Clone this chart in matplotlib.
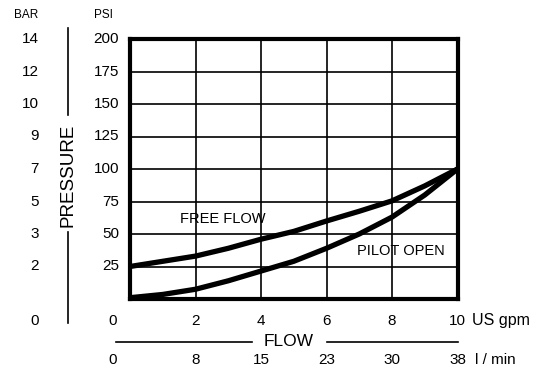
import matplotlib.pyplot as plt

plt.rcParams['font.family'] = ['Liberation Sans', 'DejaVu Sans']

# flow in US gpm, pressure in psi
gpm = [0, 1, 2, 3, 4, 5, 6, 7, 8, 9, 10]
free_flow = [25, 29, 33, 39, 46, 52, 60, 67.5, 75.5, 87, 100]
pilot_open = [1, 3.5, 7.5, 14, 21.5, 29, 39, 50, 63, 80, 100]

psi_ticks = [0, 25, 50, 75, 100, 125, 150, 175, 200]
bar_labels = ["0", "2", "3", "5", "7", "9", "10", "12", "14"]
gpm_ticks = [0, 2, 4, 6, 8, 10]
lpm_labels = ["0", "8", "15", "23", "30", "38"]

W, H = 543, 375
fig = plt.figure(figsize=(W / 100, H / 100), dpi=100)
ax = fig.add_axes([130 / W, (H - 299) / H, 327.5 / W, 260 / H])

ax.set_xlim(0, 10)
ax.set_ylim(0, 200)
ax.set_xticks(gpm_ticks)
ax.set_yticks(psi_ticks)
ax.tick_params(length=0, labelbottom=False, labelleft=False)
ax.grid(True, color="black", lw=1.2)
for s in ax.spines.values():
    s.set_linewidth(3)

ax.plot(gpm, free_flow, color="black", lw=3.8, solid_capstyle="butt")
ax.plot(gpm, pilot_open, color="black", lw=3.8, solid_capstyle="butt")

fs = 11
ax.text(1.53, 61.5, "FREE FLOW", fontsize=10.5, va="center", ha="left")
ax.text(6.94, 37, "PILOT OPEN", fontsize=10.5, va="center", ha="left")

# px -> data helpers
def dx(px):
    return (px - 130) / 32.75

def dy(py):
    return (299 - py) / 1.3

low = dy(321)
# left labels (psi 0 shares its spot with the gpm 0)
for v, b in zip(psi_ticks, bar_labels):
    yy = v if v > 0 else low
    if v > 0:
        ax.text(dx(119), yy, str(v), fontsize=fs, ha="right", va="center", clip_on=False)
    ax.text(dx(38.5), yy, b, fontsize=fs, ha="right", va="center", clip_on=False)

# bottom labels
for v, l in zip(gpm_ticks, lpm_labels):
    xx = v if v > 0 else dx(113)
    ax.text(xx, low, str(v), fontsize=fs, ha="center", va="center", clip_on=False)
    ax.text(xx, dy(360), l, fontsize=fs, ha="center", va="center", clip_on=False)
ax.text(dx(472), low, "US gpm", fontsize=11.5, ha="left", va="center", clip_on=False)
ax.text(dx(475), dy(360), "l / min", fontsize=11, ha="left", va="center", clip_on=False)

# FLOW caption with rules
ax.text(dx(289), dy(341), "FLOW", fontsize=12.5, ha="center", va="center", clip_on=False)
ax.plot([dx(116), dx(252)], [dy(341.5)] * 2, color="black", lw=1.2, clip_on=False)
ax.plot([dx(327), dx(458)], [dy(341.5)] * 2, color="black", lw=1.2, clip_on=False)

# PRESSURE caption with rules
ax.text(dx(68), dy(175), "PRESSURE", fontsize=13.5, rotation=90, ha="center", va="center", clip_on=False)
ax.plot([dx(68)] * 2, [dy(28), dy(115)], color="black", lw=1.2, clip_on=False)
ax.plot([dx(68)] * 2, [dy(232), dy(323)], color="black", lw=1.2, clip_on=False)

fig.text(26 / W, 1 - 15.5 / H, "BAR", fontsize=8.5, ha="center", va="center")
fig.text(103.5 / W, 1 - 15.5 / H, "PSI", fontsize=8.5, ha="center", va="center")

fig.savefig("out.png", dpi=100)
